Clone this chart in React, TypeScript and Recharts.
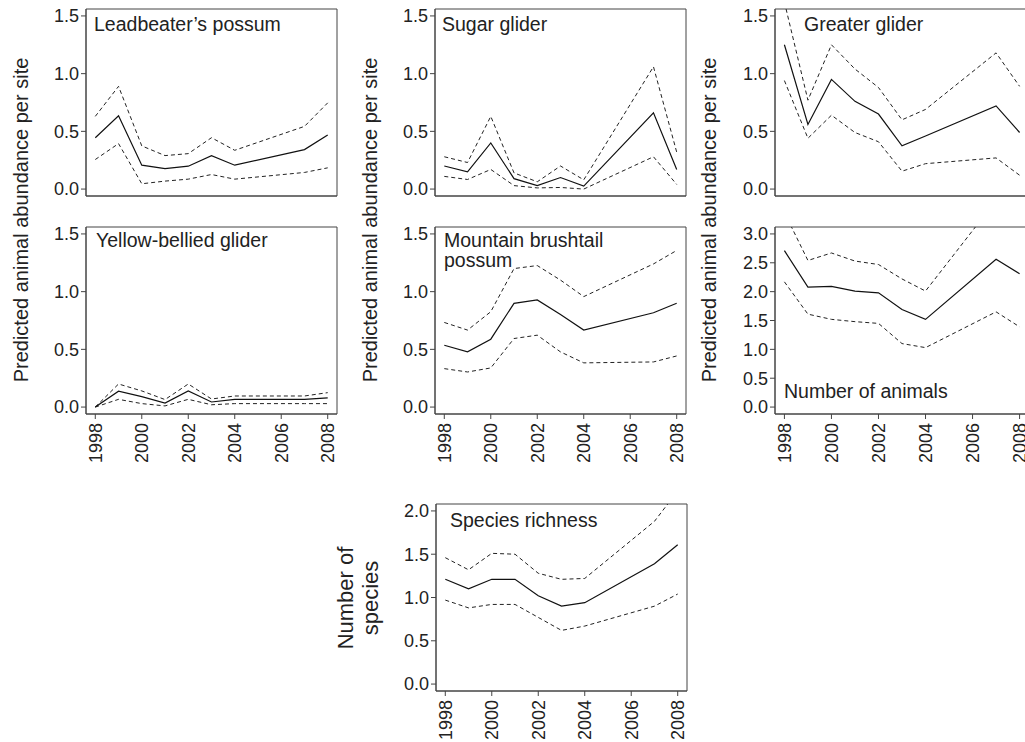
import React from 'react';
import { LineChart, Line, XAxis, YAxis, ReferenceArea } from 'recharts';

const FONT = '"Liberation Sans", Arial, Helvetica, sans-serif';

const years = [1998, 1999, 2000, 2001, 2002, 2003, 2004, 2007, 2008];
const xTicks = [1998, 2000, 2002, 2004, 2006, 2008];
const abundanceTicks = [0, 0.5, 1.0, 1.5];
const animalTicks = [0, 0.5, 1.0, 1.5, 2.0, 2.5, 3.0];
const richnessTicks = [0, 0.5, 1.0, 1.5, 2.0];

const leadMean = [0.445, 0.635, 0.207, 0.178, 0.198, 0.29, 0.207, 0.342, 0.468];
const leadHi = [0.63, 0.89, 0.374, 0.29, 0.307, 0.445, 0.336, 0.543, 0.747];
const leadLo = [0.256, 0.394, 0.046, 0.069, 0.086, 0.126, 0.086, 0.144, 0.184];

const sugarMean = [0.2, 0.15, 0.4, 0.09, 0.03, 0.1, 0.026, 0.66, 0.17];
const sugarHi = [0.28, 0.23, 0.63, 0.14, 0.063, 0.2, 0.08, 1.06, 0.32];
const sugarLo = [0.11, 0.083, 0.17, 0.03, 0.01, 0.014, 0.0, 0.28, 0.04];

const greaterMean = [1.25, 0.56, 0.95, 0.76, 0.65, 0.375, 0.46, 0.72, 0.49];
const greaterHi = [1.62, 0.77, 1.25, 1.04, 0.88, 0.6, 0.69, 1.18, 0.89];
const greaterLo = [0.94, 0.44, 0.64, 0.49, 0.41, 0.155, 0.22, 0.27, 0.12];

const yellowMean = [0.0, 0.137, 0.09, 0.035, 0.14, 0.044, 0.067, 0.067, 0.08];
const yellowHi = [0.0, 0.2, 0.14, 0.065, 0.2, 0.07, 0.096, 0.096, 0.125];
const yellowLo = [0.0, 0.067, 0.03, 0.01, 0.067, 0.02, 0.03, 0.03, 0.03];

const brushMean = [0.536, 0.478, 0.588, 0.899, 0.928, 0.803, 0.667, 0.817, 0.899];
const brushHi = [0.733, 0.667, 0.826, 1.2, 1.226, 1.1, 0.957, 1.24, 1.357];
const brushLo = [0.333, 0.304, 0.339, 0.594, 0.623, 0.478, 0.383, 0.391, 0.443];

const animalsMean = [2.71, 2.08, 2.09, 2.01, 1.98, 1.69, 1.52, 2.56, 2.31];
const animalsHi = [3.37, 2.54, 2.67, 2.53, 2.47, 2.22, 2.01, 3.58, 3.3];
const animalsLo = [2.17, 1.61, 1.52, 1.48, 1.45, 1.1, 1.03, 1.65, 1.39];

const richMean = [1.21, 1.1, 1.21, 1.21, 1.02, 0.9, 0.94, 1.39, 1.61];
const richHi = [1.46, 1.32, 1.51, 1.5, 1.28, 1.21, 1.22, 1.88, 2.23];
const richLo = [0.97, 0.88, 0.92, 0.92, 0.77, 0.62, 0.67, 0.9, 1.04];

function build(mean: number[], lo: number[], hi: number[]) {
  return years.map((y, i) => ({ year: y, mean: mean[i], lo: lo[i], hi: hi[i] }));
}

const pad = (a: number, b: number): [number, number] => {
  const r = (b - a) * 0.04;
  return [a - r, b + r];
};

const X_DOMAIN = pad(1998, 2008);
const AXIS_COLOR = '#444';
const TEXT_COLOR = '#222';
const ML = 60;
const MT = 5;
const MR = 5;
const MB = 60;

const XTick = (props: any) => {
  const { x, y, payload } = props;
  return (
    <text
      x={x}
      y={y}
      transform={`rotate(-90, ${x}, ${y})`}
      textAnchor="end"
      dy="0.36em"
      fontSize={18}
      fill={TEXT_COLOR}
      fontFamily={FONT}
    >
      {payload.value}
    </text>
  );
};

type PanelProps = {
  left: number;
  top: number;
  w: number;
  h: number;
  data: any[];
  yTicks: number[];
  yMax: number;
  xLabels: boolean;
};

function Panel({ left, top, w, h, data, yTicks, yMax, xLabels }: PanelProps) {
  const yDomain = pad(0, yMax);
  return (
    <div style={{ position: 'absolute', left: left - ML, top: top - MT }}>
      <LineChart
        width={ML + w + MR}
        height={MT + h + MB}
        data={data}
        margin={{ top: MT, right: MR, left: 0, bottom: 0 }}
      >
        <XAxis
          dataKey="year"
          type="number"
          domain={X_DOMAIN}
          ticks={xTicks}
          height={MB}
          tick={xLabels ? <XTick /> : false}
          tickSize={5}
          tickMargin={4}
          axisLine={{ stroke: AXIS_COLOR }}
          tickLine={{ stroke: AXIS_COLOR }}
          interval={0}
        />
        <YAxis
          type="number"
          domain={yDomain}
          ticks={yTicks}
          allowDataOverflow
          width={ML}
          tickSize={5}
          tickMargin={2}
          tickFormatter={(v: number) => v.toFixed(1)}
          tick={{ fontSize: 18, fill: TEXT_COLOR, fontFamily: FONT }}
          axisLine={{ stroke: AXIS_COLOR }}
          tickLine={{ stroke: AXIS_COLOR }}
          interval={0}
        />
        <ReferenceArea
          x1={X_DOMAIN[0]}
          x2={X_DOMAIN[1]}
          y1={yDomain[0]}
          y2={yDomain[1]}
          fill="none"
          fillOpacity={0}
          stroke={AXIS_COLOR}
          strokeWidth={1}
          ifOverflow="visible"
        />
        <Line dataKey="hi" stroke="#222" strokeWidth={1} strokeDasharray="4 3" dot={false} isAnimationActive={false} />
        <Line dataKey="lo" stroke="#222" strokeWidth={1} strokeDasharray="4 3" dot={false} isAnimationActive={false} />
        <Line dataKey="mean" stroke="#111" strokeWidth={1.2} dot={false} isAnimationActive={false} />
      </LineChart>
    </div>
  );
}

const BW = 251;
const BW3 = 254;
const BH = 187;

export default function App() {
  return (
    <div
      style={{
        position: 'absolute',
        left: 0,
        top: 0,
        width: 1025,
        height: 742,
        overflow: 'hidden',
        background: '#fff',
      }}
    >
      <Panel left={86} top={9} w={BW} h={BH} data={build(leadMean, leadLo, leadHi)} yTicks={abundanceTicks} yMax={1.5} xLabels={false} />
      <Panel left={435} top={9} w={BW} h={BH} data={build(sugarMean, sugarLo, sugarHi)} yTicks={abundanceTicks} yMax={1.5} xLabels={false} />
      <Panel left={775} top={9} w={BW3} h={BH} data={build(greaterMean, greaterLo, greaterHi)} yTicks={abundanceTicks} yMax={1.5} xLabels={false} />
      <Panel left={86} top={227} w={BW} h={BH} data={build(yellowMean, yellowLo, yellowHi)} yTicks={abundanceTicks} yMax={1.5} xLabels={true} />
      <Panel left={435} top={227} w={BW} h={BH} data={build(brushMean, brushLo, brushHi)} yTicks={abundanceTicks} yMax={1.5} xLabels={true} />
      <Panel left={775} top={227} w={BW3} h={BH} data={build(animalsMean, animalsLo, animalsHi)} yTicks={animalTicks} yMax={3.0} xLabels={true} />
      <Panel left={436} top={504} w={BW} h={BH} data={build(richMean, richLo, richHi)} yTicks={richnessTicks} yMax={2.0} xLabels={true} />

      <svg
        width={1025}
        height={742}
        style={{ position: 'absolute', left: 0, top: 0, pointerEvents: 'none' }}
        fontFamily={FONT}
        fill={TEXT_COLOR}
      >
        <g fontSize={19.5}>
          <text x={94} y={31}>Leadbeater’s possum</text>
          <text x={442} y={31}>Sugar glider</text>
          <text x={804} y={31}>Greater glider</text>
          <text x={96} y={247}>Yellow-bellied glider</text>
          <text x={444} y={247}>Mountain brushtail</text>
          <text x={444} y={267}>possum</text>
          <text x={784} y={398}>Number of animals</text>
          <text x={450} y={527}>Species richness</text>
        </g>
        <g fontSize={20} textAnchor="middle">
          <text x={28} y={220} transform="rotate(-90, 28, 220)">Predicted animal abundance per site</text>
          <text x={377} y={220} transform="rotate(-90, 377, 220)">Predicted animal abundance per site</text>
          <text x={716} y={220} transform="rotate(-90, 716, 220)">Predicted animal abundance per site</text>
        </g>
        <g fontSize={22} textAnchor="middle">
          <text x={353} y={598} transform="rotate(-90, 353, 598)">Number of</text>
          <text x={378} y={598} transform="rotate(-90, 378, 598)">species</text>
        </g>
      </svg>
    </div>
  );
}
